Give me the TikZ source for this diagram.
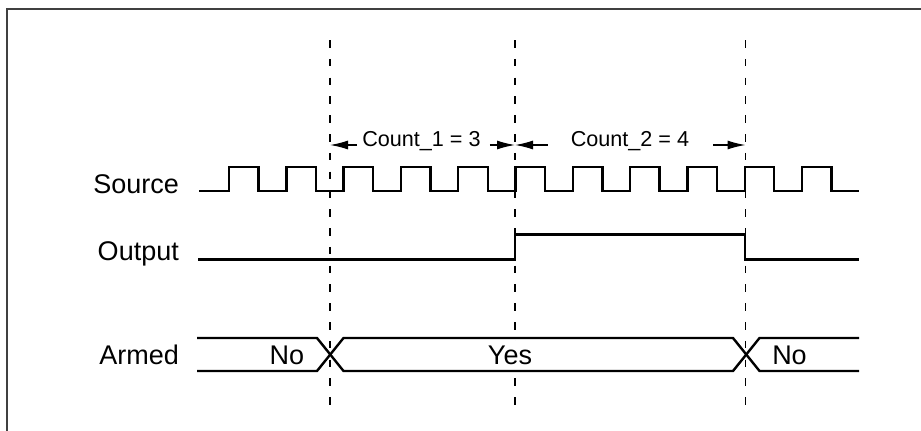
\documentclass[tikz,border=0pt]{standalone}
\usepackage{fontspec}
\setmainfont{Liberation Sans}
\usetikzlibrary{arrows.meta}

\begin{document}
\begin{tikzpicture}[x=1pt, y=-1pt,
        sig/.style = {line width=2.4pt},
        cutline/.style = {line width=1.3pt, dash pattern=on 7.5pt off 11.3pt},
        lbl/.style = {anchor=base east, inner sep=0pt, font=\fontsize{27}{31}\selectfont},
        val/.style = {anchor=base, inner sep=0pt, font=\fontsize{27}{31}\selectfont},
        cnt/.style = {anchor=base, inner sep=0pt, font=\fontsize{21.6}{25}\selectfont},
        span/.style = {-{Latex[length=18pt, width=9pt]}, line width=1.3pt}]
        \useasboundingbox (0,0) rectangle (921,431);
        \draw[line width=1.4pt, black!75] (7,431) -- (7,9) -- (921,9);
        % time markers
        \foreach \n/\x in {d1/330, d2/515, d3/745.5} {
            \coordinate (\n) at (\x,40);
            \draw[cutline] (\n) -- (\x,405);
        }
        \node[lbl] (src) at (179,193) {Source};
        \node[lbl] (out) at (179,260) {Output};
        \node[lbl] (arm) at (179,364.3) {Armed};
        \node[cnt] (c1) at (421.5,146.7) {Count\_1 = 3};
        \node[cnt] (c2) at (630,146.7) {Count\_2 = 4};
        \coordinate (a1) at ([yshift=1.7pt]c1.base);
        \coordinate (a2) at ([yshift=1.7pt]c2.base);
        \draw[span] ([xshift=-5pt]a1 -| c1.west) -- (a1 -| d1);
        \draw[span] ([xshift=9pt]a1 -| c1.east) -- (a1 -| d2);
        \draw[span] ([xshift=-23pt]a2 -| c2.west) -- (a2 -| d2);
        \draw[span] ([xshift=24pt]a2 -| c2.east) -- (a2 -| d3);
        \node[val] (no1) at (287,364.3) {No};
        \node[val, fill=white, inner xsep=2pt, inner ysep=5pt] (yes) at (510,364.3) {Yes};
        \node[val] (no2) at (789.5,364.3) {No};
        % signals
        \draw[sig] (199,191) \foreach \i in {0,...,10} {
            -- ({229+57.3*\i},191) -- ({229+57.3*\i},167)
            -- ({258.5+57.3*\i},167) -- ({258.5+57.3*\i},191)} -- (859,191);
        \draw[sig] (198,259.5) -- (515,259.5) -- (515,234.5) -- (745,234.5) -- (745,259.5) -- (859,259.5);
        \draw[sig] (197,338) -- (317,338) -- (343.5,371) -- (733,371) -- (759.5,338) -- (859,338);
        \draw[sig] (197,371) -- (317,371) -- (343.5,338) -- (733,338) -- (759.5,371) -- (859,371);
    \end{tikzpicture}
\end{document}
